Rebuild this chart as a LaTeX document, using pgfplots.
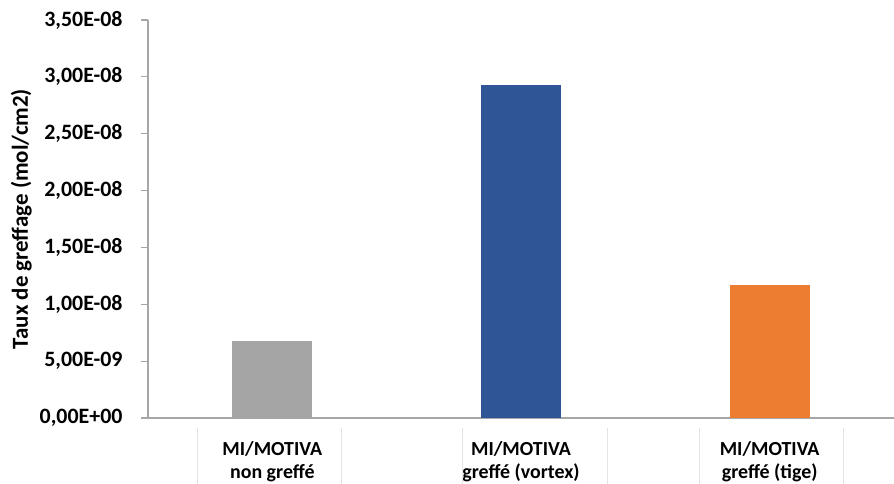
\documentclass[border=0pt]{standalone}
\usepackage{fontspec}
\setmainfont{Carlito}
\usepackage{pgfplots}
\pgfplotsset{compat=1.18}
\definecolor{cgray}{HTML}{A5A5A5}
\definecolor{cblue}{HTML}{2F5597}
\definecolor{corange}{HTML}{ED7D31}
\definecolor{caxis}{HTML}{A6A6A6}
\definecolor{cbox}{HTML}{E3E3E3}
\begin{document}
\begin{tikzpicture}[x=1bp,y=1bp]
\begin{axis}[
  at={(0,0)}, anchor=south west,
  scale only axis, width=746bp, height=398bp,
  xmin=-0.5, xmax=2.5, ymin=0, ymax=3.5e-8,
  axis x line*=bottom, axis y line*=left,
  axis line style={caxis, line width=1.2bp},
  every outer x axis line/.append style={-},
  every outer y axis line/.append style={-},
  xtick={0,1,2},
  xticklabels={{MI/MOTIVA\\non greffé},{MI/MOTIVA\\greffé (vortex)},{MI/MOTIVA\\greffé (tige)}},
  xticklabel style={align=center, font=\fontsize{20}{23}\selectfont\bfseries, yshift=-13bp},
  x tick style={draw=none},
  extra x ticks={-0.5,0.5,1.5,2.5},
  extra x tick labels={},
  extra x tick style={tick style={draw=caxis, line width=1.2bp}, major tick length=7bp, tick align=outside},
  ytick={0,0.5e-8,1e-8,1.5e-8,2e-8,2.5e-8,3e-8,3.5e-8},
  yticklabels={{0,00E+00},{5,00E-09},{1,00E-08},{1,50E-08},{2,00E-08},{2,50E-08},{3,00E-08},{3,50E-08}},
  scaled y ticks=false,
  y tick style={draw=caxis, line width=1.2bp},
  major tick length=7bp, tick align=outside,
  yticklabel style={font=\fontsize{22}{24}\selectfont\bfseries, xshift=-15bp},
  ylabel={Taux de greffage (mol/cm2)},
  ylabel style={font=\fontsize{23}{26}\selectfont\bfseries, at={(axis description cs:0,0.5)}, anchor=south, yshift=116bp, inner sep=0pt},
  ybar, bar width=80bp, bar shift=0pt,
  clip=false,
]
\addplot[fill=cgray, draw=none] coordinates {(0,6.77e-9)};
\addplot[fill=cblue, draw=none] coordinates {(1,2.926e-8)};
\addplot[fill=corange, draw=none] coordinates {(2,1.167e-8)};
\draw[cbox, line width=0.8bp] ([yshift=-10bp]axis cs:-0.302,0) -- ([yshift=-70bp]axis cs:-0.302,0);
\draw[cbox, line width=0.8bp] ([yshift=-10bp]axis cs:0.278,0) -- ([yshift=-70bp]axis cs:0.278,0);
\draw[cbox, line width=0.8bp] ([yshift=-10bp]axis cs:0.766,0) -- ([yshift=-70bp]axis cs:0.766,0);
\draw[cbox, line width=0.8bp] ([yshift=-10bp]axis cs:1.349,0) -- ([yshift=-70bp]axis cs:1.349,0);
\draw[cbox, line width=0.8bp] ([yshift=-10bp]axis cs:1.718,0) -- ([yshift=-70bp]axis cs:1.718,0);
\draw[cbox, line width=0.8bp] ([yshift=-10bp]axis cs:2.298,0) -- ([yshift=-70bp]axis cs:2.298,0);
\end{axis}
\pgfresetboundingbox
\useasboundingbox (-148bp,-66bp) rectangle (746bp,418bp);
\end{tikzpicture}
\end{document}
